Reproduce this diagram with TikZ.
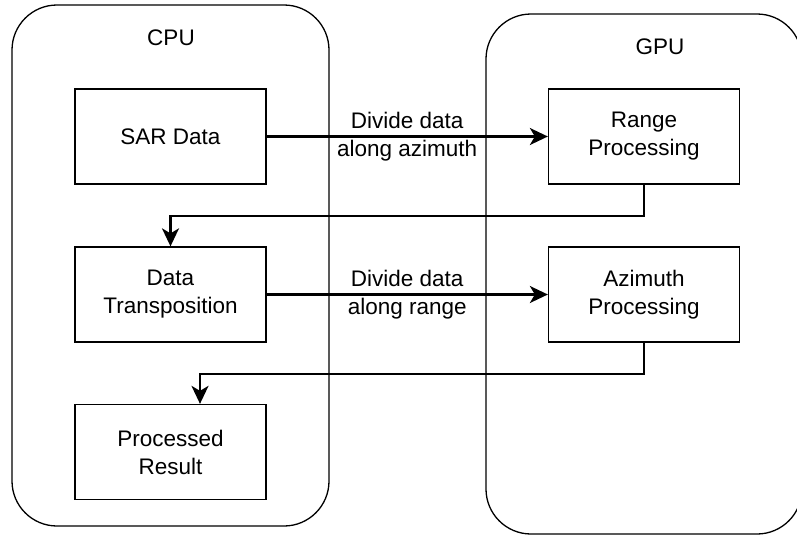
\documentclass[tikz,border=0pt]{standalone}
\usepackage{fontspec}
\setmainfont{Liberation Sans}
\usetikzlibrary{arrows.meta}
\newcommand\diagfont{\fontsize{22.5}{28}\selectfont}
\begin{document}
\begin{tikzpicture}[x=1pt,y=-1pt,
  container/.style={draw, line width=1.3pt, rounded corners=45pt, inner sep=0pt},
  stepbox/.style={draw, line width=1.3pt, minimum width=191pt, minimum height=95pt,
    inner sep=0pt, align=center, font=\diagfont},
  title/.style={font=\diagfont, inner sep=0pt},
  flow/.style={line width=2.2pt, -{Stealth[length=18pt,width=17pt,inset=5pt]}},
  edgelabel/.style={font=\diagfont, align=center, inner sep=0pt},
]
\useasboundingbox (0,0) rectangle (797,536);

% processor regions (the GPU region runs past the right edge)
\begin{scope}
  \clip (0,0) rectangle (797,536);
  \node[container, minimum width=317pt, minimum height=521pt] (cpu) at (170.5,265.5) {};
  \node[container, minimum width=316pt, minimum height=520pt] (gpu) at (644,274) {};
\end{scope}
\node[title] (cputitle) at (171,38) {CPU};
\node[title] (gputitle) at (660,47) {GPU};

% processing steps
\node[stepbox] (sar)    at (170.5,136.5) {SAR Data};
\node[stepbox] (range)  at (644,136.5)   {Range\\Processing};
\node[stepbox] (transp) at (170.5,294.5) {Data\\Transposition};
\node[stepbox] (azim)   at (644,294.5)   {Azimuth\\Processing};
\node[stepbox] (result) at (170.5,452)   {Processed\\Result};

% data flow
\draw[flow] (sar) -- node[edgelabel] (lblaz) {Divide data\\along azimuth} (range);
\draw[flow] (range.south) -- ++(0,31) -| (transp.north);
\draw[flow] (transp) -- node[edgelabel] (lblrg) {Divide data\\along range} (azim);
\draw[flow] (azim.south) -- ++(0,31) -| ([xshift=29.5pt]result.north);
\end{tikzpicture}
\end{document}
